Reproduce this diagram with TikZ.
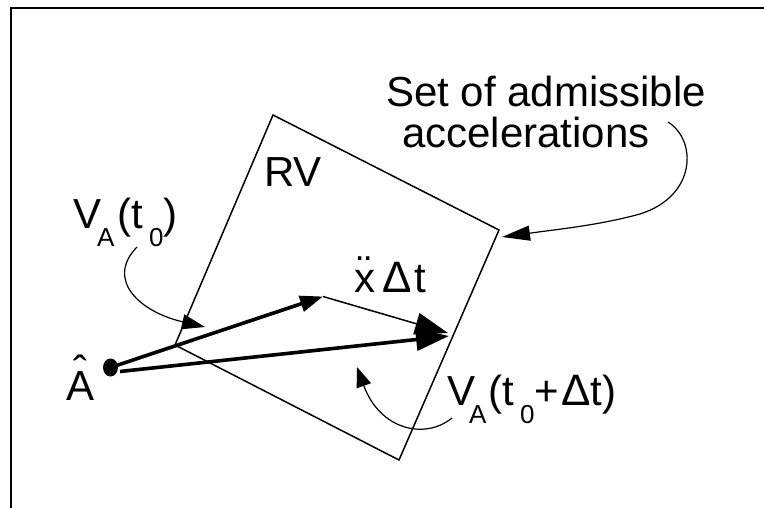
\documentclass[tikz,border=0pt]{standalone}
\usepackage{fontspec}
\setmainfont{Liberation Sans}
\usetikzlibrary{arrows.meta}
\newcommand\mainsz{\fontsize{42}{48}\selectfont}
\newcommand\lsub[1]{\raisebox{-18pt}{\fontsize{26}{26}\selectfont #1}}
\newcommand\dlt{{\fontsize{44}{44}\selectfont Δ}}
\newcommand\xdd{\ooalign{x\cr\hidewidth\raisebox{7pt}{¨}\hidewidth\cr}}
\newcommand\ahatc{\ooalign{A\cr\hidewidth\raisebox{15pt}{ˆ}\hidewidth\cr}}
\begin{document}
\begin{tikzpicture}[x=1pt,y=-1pt,
  lbl/.style={anchor=base west, inner sep=0pt, font=\mainsz},
  rvedge/.style={line width=1.5pt},
  callout/.style={line width=1.2pt},
  heavy/.style={line width=3.6pt},
  smallhead/.style={-{Triangle[length=23pt,width=16pt]}},
  bighead/.style={-{Triangle[length=33pt,width=22pt]}}]
\useasboundingbox (0,0) rectangle (764,508);
% frame
\draw[line width=2pt] (11,508) -- (11,8) -- (764,8);
% RV parallelogram
\coordinate (T) at (273,115);
\coordinate (R) at (499,230);
\coordinate (B) at (399,460);
\coordinate (L) at (175,345);
\draw[rvedge, line join=miter] (T) -- (R) -- (B) -- (L) -- cycle;
% points
\coordinate (dot) at (110.5,367.5);
\coordinate (dotr) at (120,371.5);
\coordinate (P) at (323,296.5);
\coordinate (Q) at (448,333);
\coordinate (Q2) at (449,336);
\fill (dot) ellipse [x radius=7.5, y radius=9];
% vectors
\draw[heavy, smallhead] (dot) -- (P);
\draw[rvedge, bighead] (P) -- (Q);
\draw[heavy, bighead] (dotr) -- (Q2);
% labels
\node[lbl] (rv) at (264,187) {RV};
\node[lbl] (set1) at (386,107) {Set of admissible};
\node[lbl] (set2) at (402,148) {accelerations};
\node[lbl] (ahat) at (66,400) {\ahatc};
\node[lbl] (xdt) at (354,292) {\xdd\hspace{7pt}\dlt\hspace{3pt}t};
\node[lbl] (v0) at (73,229) {V\kern-4pt\lsub{A}\kern3pt(t\hspace{6pt}\lsub{0})};
\node[lbl] (v1) at (447,405) {V\kern-6pt\lsub{A}\kern2pt(t\hspace{6pt}\lsub{0}+\hspace{2pt}\dlt t)};
% callout curves
\coordinate (c1s) at (137,247);
\coordinate (c1e) at (205,327);
\draw[callout, -{Triangle[length=23pt,width=15pt]}] (c1s) .. controls (105,280) and (140,312) .. (c1e);
\coordinate (c2s) at (668,122);
\coordinate (c2m) at (640,214);
\coordinate (c2e) at (502,237);
\draw[callout, -{Triangle[length=28pt,width=15pt]}] (c2s) .. controls (697,140) and (697,196) .. (c2m) .. controls (600,225) and (560,229) .. (c2e);
\coordinate (c3s) at (452,418);
\coordinate (c3e) at (357,367);
\draw[callout, -{Triangle[length=20pt,width=15pt]}] (c3s) .. controls (425,440) and (380,430) .. (c3e);
\end{tikzpicture}
\end{document}
